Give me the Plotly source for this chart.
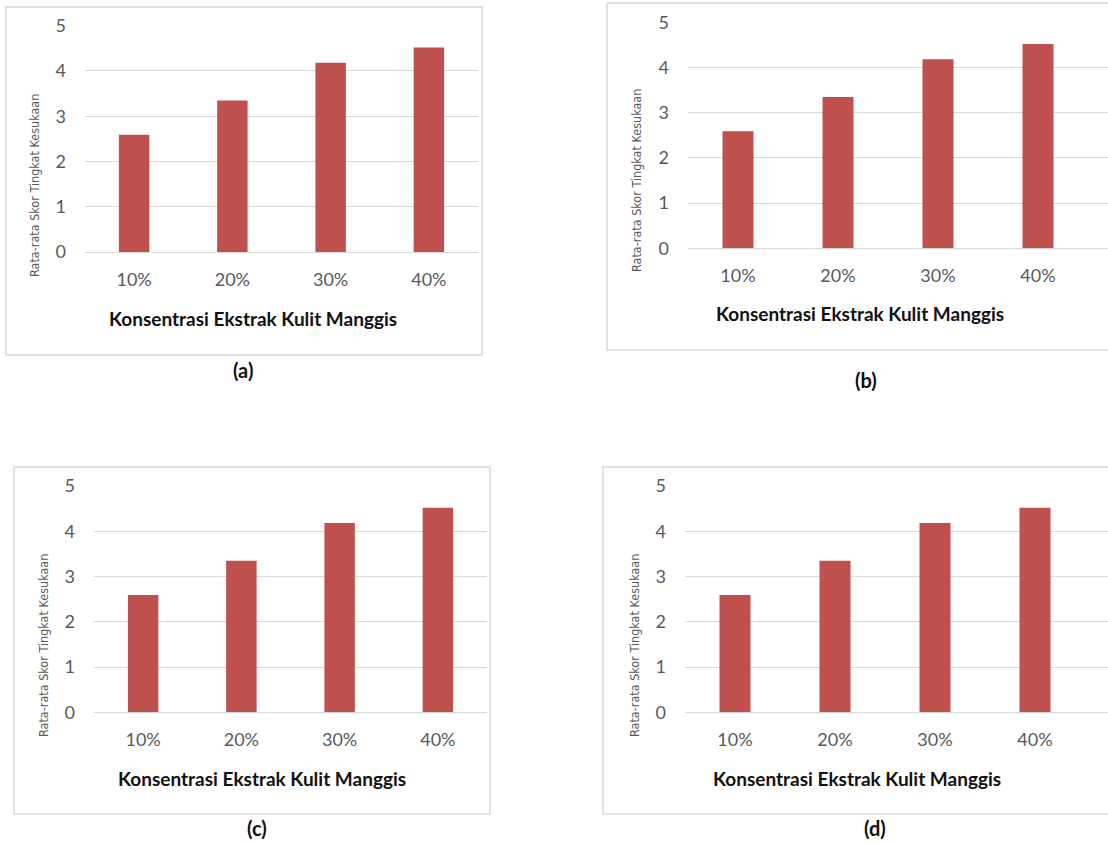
import plotly.graph_objects as go

# ---- data ----
categories = ["10%", "20%", "30%", "40%"]
scores_a = [2.59, 3.35, 4.18, 4.52]
scores_b = [2.59, 3.35, 4.18, 4.52]
scores_c = [2.59, 3.35, 4.18, 4.52]
scores_d = [2.59, 3.35, 4.18, 4.52]
y_ticks = [0, 1, 2, 3, 4, 5]
panel_labels = ["(a)", "(b)", "(c)", "(d)"]
x_title = "Konsentrasi Ekstrak Kulit Manggis"
y_title = "Rata-rata Skor Tingkat Kesukaan"

W, H = 1108, 843
BAR = "#c0504d"
GRID = "#d9d9d9"
TICK = "#595959"


def fx(px):
    return px / W


def fy(py):
    return 1 - py / H


# layout per panel, in pixels
panels = [
    dict(vals=scores_a, px=(85, 478), xr=(-0.5, 3.5), y0=252, y5=25.7,
         border=(6, 7, 482, 355), yt=(35, 186), xt=(253, 318), lab=(243, 370)),
    dict(vals=scores_b, px=(688, 1108), xr=(-0.5, 3.7), y0=248.3, y5=22.3,
         border=(607, 3, 1120, 350), yt=(637, 181), xt=(860, 313), lab=(866, 380)),
    dict(vals=scores_c, px=(94, 487), xr=(-0.5, 3.5), y0=712.3, y5=486,
         border=(14, 467, 490, 814), yt=(43, 646), xt=(262, 778), lab=(257, 828)),
    dict(vals=scores_d, px=(685, 1108), xr=(-0.5, 3.73), y0=712.3, y5=486,
         border=(603, 467, 1120, 814), yt=(634, 646), xt=(857, 778), lab=(875, 828)),
]

fig = go.Figure()
shapes = []
annotations = []
layout_axes = {}

for i, p in enumerate(panels):
    n = i + 1
    xa = "x" if n == 1 else f"x{n}"
    ya = "y" if n == 1 else f"y{n}"
    fig.add_trace(go.Bar(
        x=categories, y=p["vals"], xaxis=xa, yaxis=ya,
        marker=dict(color=BAR, line=dict(width=0)), width=0.31,
        showlegend=False, hoverinfo="x+y",
    ))
    xkey = "xaxis" if n == 1 else f"xaxis{n}"
    ykey = "yaxis" if n == 1 else f"yaxis{n}"
    layout_axes[xkey] = dict(
        type="category", categoryorder="array", categoryarray=categories,
        domain=[fx(p["px"][0]), fx(p["px"][1])], anchor=ya, automargin=False,
        range=list(p["xr"]), showgrid=False, showline=False, zeroline=False,
        ticks="", tickfont=dict(family="Lato, Open Sans, sans-serif", size=18, color=TICK),
        ticklabelstandoff=15, fixedrange=True,
    )
    layout_axes[ykey] = dict(
        type="linear",
        domain=[fy(p["y0"]), fy(p["y5"])], anchor=xa, automargin=False,
        range=[0, 5], tickvals=y_ticks, showgrid=True, gridcolor=GRID, gridwidth=1,
        zeroline=True, zerolinecolor=GRID, zerolinewidth=1, showline=False, ticks="",
        tickfont=dict(family="Lato, Open Sans, sans-serif", size=18, color=TICK),
        ticklabelstandoff=18, fixedrange=True,
    )
    bx0, by0, bx1, by1 = p["border"]
    shapes.append(dict(type="rect", xref="paper", yref="paper",
                       x0=fx(bx0), x1=fx(bx1), y0=fy(by1), y1=fy(by0),
                       line=dict(color=GRID, width=1.5), fillcolor="rgba(0,0,0,0)",
                       layer="below"))
    annotations.append(dict(
        text=y_title, xref="paper", yref="paper", x=fx(p["yt"][0]), y=fy(p["yt"][1]),
        textangle=-90, showarrow=False, xanchor="center", yanchor="middle",
        font=dict(family="Liberation Sans Narrow, DejaVu Sans Condensed, sans-serif",
                  size=12.5, color=TICK)))
    annotations.append(dict(
        text=f"<b>{x_title}</b>", xref="paper", yref="paper",
        x=fx(p["xt"][0]), y=fy(p["xt"][1]), showarrow=False,
        xanchor="center", yanchor="middle",
        font=dict(family="Lato, Open Sans, sans-serif", size=19, color="#111111")))
    annotations.append(dict(
        text=f"<b>{panel_labels[i]}</b>", xref="paper", yref="paper",
        x=fx(p["lab"][0]), y=fy(p["lab"][1]), showarrow=False,
        xanchor="center", yanchor="middle",
        font=dict(family="Lato, Open Sans, sans-serif", size=20, color="#111111")))

fig.update_layout(
    template="none",
    width=W, height=H, margin=dict(l=0, r=0, t=0, b=0, autoexpand=False),
    paper_bgcolor="white", plot_bgcolor="white",
    shapes=shapes, annotations=annotations, bargap=0.69,
    **layout_axes,
)

fig.write_html(
    "out.html",
    config={"displayModeBar": False},
    post_script="document.body.style.margin='0';document.body.style.padding='0';",
)
